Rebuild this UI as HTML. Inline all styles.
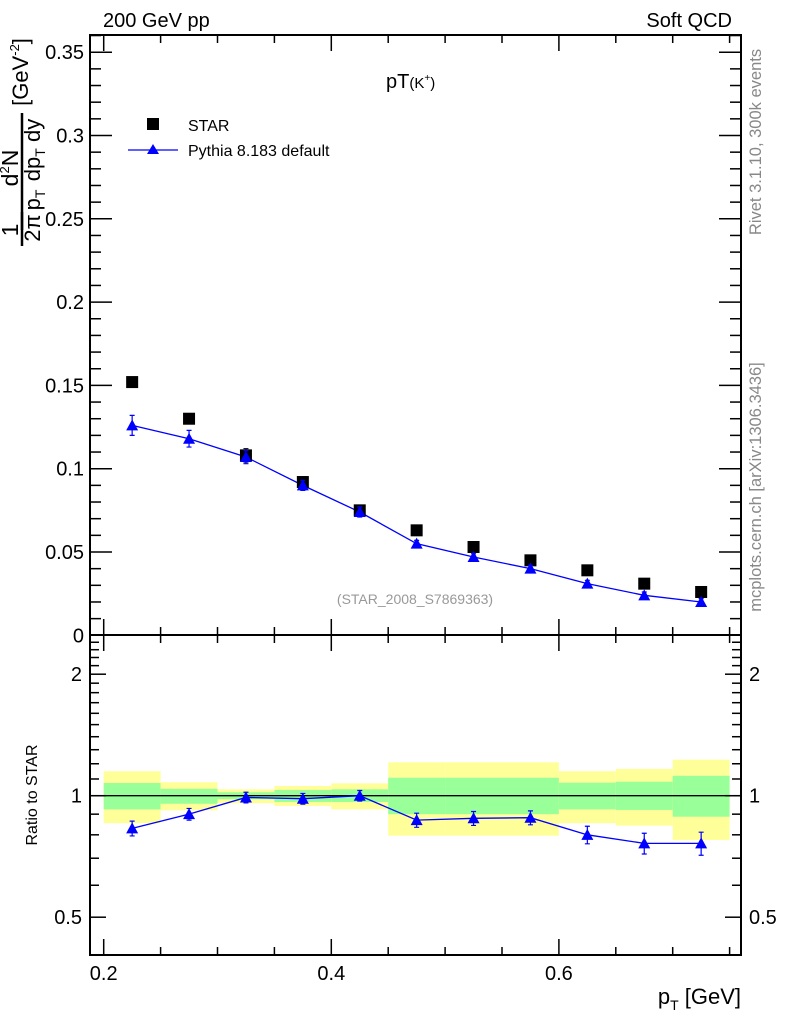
<!DOCTYPE html>
<html><head><meta charset="utf-8"><style>
html,body{margin:0;padding:0;background:#fff}
svg{display:block;font-family:"Liberation Sans",sans-serif}
</style></head><body>
<svg id="c" width="786" height="1024" viewBox="0 0 786 1024">
<rect width="786" height="1024" fill="#fff"/>
<g id="bands"></g>
<g id="axes"></g>
<g id="marks"></g>
<text x="103" y="27" font-size="20">200 GeV pp</text>
<text x="732" y="27" font-size="20" text-anchor="end">Soft QCD</text>
<text x="386" y="88" font-size="20">pT<tspan font-size="15">(K</tspan><tspan font-size="10" dy="-7">+</tspan><tspan font-size="15" dy="7">)</tspan></text>
<rect x="147" y="118" width="12" height="12" fill="#000"/>
<text x="188" y="131" font-size="16">STAR</text>
<line x1="128" y1="150" x2="178" y2="150" stroke="#00f" stroke-width="1.3"/>
<path d="M153,144 L159,154 L147,154 Z" fill="#00f"/>
<text x="188" y="156" font-size="16">Pythia 8.183 default</text>
<text x="415" y="604" font-size="14" fill="#999" text-anchor="middle">(STAR_2008_S7869363)</text>
<g transform="rotate(-90)">
<text x="-230" y="18" font-size="23" text-anchor="middle">1</text>
<line x1="-246" y1="22" x2="-212" y2="22" stroke="#000" stroke-width="2.5"/>
<text x="-228" y="40" font-size="22" text-anchor="middle">2π</text>
<text x="-200" y="40" font-size="22" text-anchor="middle">p<tspan font-size="14" dy="5">T</tspan></text>
<text x="-168" y="18" font-size="23" text-anchor="middle">d<tspan font-size="13" dy="-9">2</tspan><tspan dy="9">N</tspan></text>
<line x1="-230" y1="22" x2="-113" y2="22" stroke="#000" stroke-width="2.5"/>
<text x="-150" y="40" font-size="22" text-anchor="middle">dp<tspan font-size="14" dy="5">T</tspan><tspan dy="-5"> dy</tspan></text>
<text x="-72" y="28" font-size="22" text-anchor="middle">[GeV<tspan font-size="13" dy="-9">-2</tspan><tspan dy="9">]</tspan></text>
</g>
<text transform="translate(761,142) rotate(-90)" font-size="16.5" fill="#888" text-anchor="middle">Rivet 3.1.10,  300k events</text>
<text transform="translate(761,487) rotate(-90)" font-size="16.5" fill="#888" text-anchor="middle">mcplots.cern.ch [arXiv:1306.3436]</text>
<text transform="translate(37,795) rotate(-90)" font-size="16" text-anchor="middle">Ratio to STAR</text>
<text x="741" y="1004" font-size="22" text-anchor="end">p<tspan font-size="14" dy="6">T</tspan><tspan dy="-6"> [GeV]</tspan></text>
</svg>
<script>
const xCenters=[0.225,0.275,0.325,0.375,0.425,0.475,0.525,0.575,0.625,0.675,0.725];
const starVals=[0.152,0.130,0.108,0.092,0.075,0.063,0.053,0.045,0.039,0.031,0.026];
const starErr=[0.002,0.002,0.004,0.002,0.002,0.001,0.001,0.001,0.001,0.001,0.001];
const pyVals=[0.126,0.118,0.107,0.090,0.074,0.055,0.047,0.040,0.031,0.024,0.020];
const pyErr=[0.006,0.005,0.004,0.003,0.003,0.002,0.002,0.002,0.002,0.002,0.002];
const ratioVals=[0.83,0.90,0.99,0.983,1.0,0.87,0.879,0.882,0.80,0.762,0.762];
const ratioErr=[0.035,0.03,0.03,0.03,0.03,0.035,0.035,0.035,0.04,0.045,0.05];
const binLo=[0.2,0.25,0.3,0.35,0.4,0.45,0.5,0.55,0.6,0.65,0.7];
const binHi=[0.25,0.3,0.35,0.4,0.45,0.5,0.55,0.6,0.65,0.7,0.75];
const yelHi=[1.15,1.08,1.037,1.057,1.073,1.21,1.21,1.21,1.15,1.165,1.228];
const yelLo=[0.855,0.92,0.958,0.943,0.925,0.796,0.796,0.796,0.855,0.843,0.777];
const grnHi=[1.075,1.04,1.02,1.033,1.037,1.108,1.108,1.108,1.077,1.083,1.12];
const grnLo=[0.925,0.955,0.98,0.965,0.965,0.9,0.9,0.9,0.925,0.922,0.887];
const mainTicks=["0","0.05","0.1","0.15","0.2","0.25","0.3","0.35"];
const xTicks=["0.2","0.4","0.6"];
const ratioTicks=["0.5","1","2"];

const NS="http://www.w3.org/2000/svg";
const L=90,R=741,T=35,M=635,B=955;
const X=v=>103.7+(v-0.2)*1138;
const Y=v=>635.3-v*1666;
const RY=v=>795.7-121.5*Math.log2(v);
function mk(tag,attrs,parent){const e=document.createElementNS(NS,tag);for(const k in attrs)e.setAttribute(k,attrs[k]);document.getElementById(parent).appendChild(e);return e;}

for(let i=0;i<binLo.length;i++){
  const y=mk('rect',{x:X(binLo[i]),y:RY(yelHi[i]),width:X(binHi[i])-X(binLo[i]),height:RY(yelLo[i])-RY(yelHi[i]),fill:'#ffff99'},'bands');
  
  
  const g=mk('rect',{x:X(binLo[i]),y:RY(grnHi[i]),width:X(binHi[i])-X(binLo[i]),height:RY(grnLo[i])-RY(grnHi[i]),fill:'#99ff99'},'bands');
  
  
}
const one=mk('line',{x1:L,x2:R,y1:RY(1),y2:RY(1),stroke:'#000','stroke-width':1.3},'bands');



const f1=mk('rect',{x:L,y:T,width:R-L,height:M-T,fill:'none',stroke:'#000','stroke-width':2},'axes');


const f2=mk('rect',{x:L,y:M,width:R-L,height:B-M,fill:'none',stroke:'#000','stroke-width':2},'axes');


function tick(x1,y1,x2,y2){const t=mk('line',{x1,y1,x2,y2,stroke:'#000','stroke-width':1.5},'axes');}
for(let k=0;k<=36;k++){const v=k*0.01,y=Y(v);if(y<T-0.5)continue;const len=(k%5==0)?22:11;tick(L,y,L+len,y);tick(R,y,R-len,y);}
mainTicks.forEach(s=>{const t=mk('text',{x:L-6,y:Y(+s)+7,'font-size':20,'text-anchor':'end'},'axes');t.textContent=s;});
for(let k=0;k<=11;k++){const v=0.2+k*0.05,x=X(v);if(x>R)continue;const len=(k%4==0)?16:8;tick(x,T,x,T+len);tick(x,M,x,M-len);tick(x,M,x,M+len);tick(x,B,x,B-len);}
xTicks.forEach(s=>{const t=mk('text',{x:X(+s),y:980,'font-size':20,'text-anchor':'middle'},'axes');t.textContent=s;});
const rmin=[0.5,0.6,0.7,0.8,0.9,1,1.1,1.2,1.3,1.4,1.5,1.6,1.7,1.8,1.9,2,2.1,2.2,2.3,2.4];
rmin.forEach(v=>{const y=RY(v);const len=(v==0.5||v==1||v==2)?16:9;tick(L,y,L+len,y);tick(R,y,R-len,y);});
ratioTicks.forEach(s=>{
  const a=mk('text',{x:L-8,y:RY(+s)+7,'font-size':20,'text-anchor':'end'},'axes');a.textContent=s;
  const b=mk('text',{x:R+8,y:RY(+s)+7,'font-size':20},'axes');b.textContent=s;
});

function tri(cx,cy,parent,name){const p=mk('path',{d:`M${cx},${cy-6} L${cx+6},${cy+5} L${cx-6},${cy+5} Z`,fill:'#00f'},parent);}
function err(cx,y1,y2,color,name){const e=mk('path',{d:`M${cx},${y1}V${y2}M${cx-2.5},${y1}H${cx+2.5}M${cx-2.5},${y2}H${cx+2.5}`,stroke:color,'stroke-width':1.2,fill:'none'},'marks');}
const pl=mk('polyline',{points:xCenters.map((x,i)=>X(x)+','+Y(pyVals[i])).join(' '),fill:'none',stroke:'#00f','stroke-width':1.3},'marks');


xCenters.forEach((x,i)=>{
  err(X(x),Y(starVals[i]+starErr[i]),Y(starVals[i]-starErr[i]),'#000','star-error-bar');
  const r=mk('rect',{x:X(x)-6,y:Y(starVals[i])-6,width:12,height:12,fill:'#000'},'marks');
  
  
  err(X(x),Y(pyVals[i]+pyErr[i]),Y(pyVals[i]-pyErr[i]),'#00f','pythia-error-bar');
  tri(X(x),Y(pyVals[i]),'marks','pythia-point');
});
const rl=mk('polyline',{points:xCenters.map((x,i)=>X(x)+','+RY(ratioVals[i])).join(' '),fill:'none',stroke:'#00f','stroke-width':1.3},'marks');


xCenters.forEach((x,i)=>{
  err(X(x),RY(ratioVals[i]+ratioErr[i]),RY(ratioVals[i]-ratioErr[i]),'#00f','ratio-error-bar');
  tri(X(x),RY(ratioVals[i]),'marks','ratio-point');
});
</script>
</body></html>
